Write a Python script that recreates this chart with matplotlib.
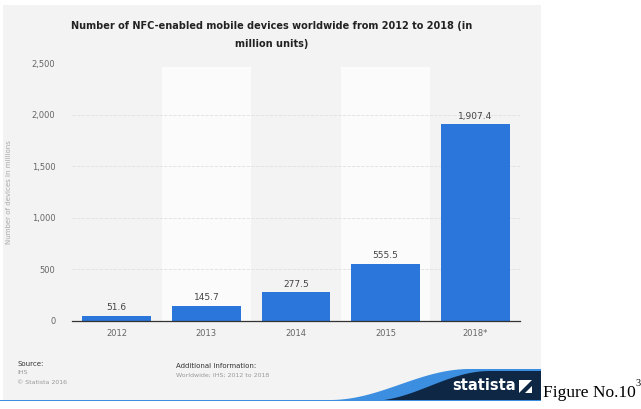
import matplotlib.pyplot as plt
import numpy as np
from matplotlib.patches import Rectangle, Polygon

years = ["2012", "2013", "2014", "2015", "2018*"]
devices = [51.6, 145.7, 277.5, 555.5, 1907.4]
value_labels = ["51.6", "145.7", "277.5", "555.5", "1,907.4"]
y_ticks = [0, 500, 1000, 1500, 2000, 2500]
y_tick_labels = ["0", "500", "1,000", "1,500", "2,000", "2,500"]

W, H = 641, 409


def px(x, y):
    # pixel coords (from top-left) -> figure fraction
    return x / W, 1 - y / H


fig = plt.figure(figsize=(6.41, 4.09), dpi=100)
fig.patch.set_facecolor("white")

# grey statista panel
fig.patches.append(Rectangle(px(3, 400), 538 / W, 395 / H, transform=fig.transFigure,
                             facecolor="#f3f3f3", edgecolor="none", zorder=-5))

ax = fig.add_axes([72 / W, 88 / H, 448 / W, 258 / H])
ax.set_facecolor("none")
x = np.arange(len(years))

# alternating lighter column bands
for i in x[1::2]:
    ax.add_patch(Rectangle((i - 0.5, 0), 1, 2465, facecolor="#fbfbfb", edgecolor="none",
                           zorder=0))

for v in y_ticks[1:-1]:
    ax.axhline(v, color="#e0e0e0", lw=0.6, ls=(0, (4, 1.5)), zorder=1)

bars = ax.bar(x, devices, width=0.77, color="#2a76da", zorder=2)
for b, lab in zip(bars, value_labels):
    ax.text(b.get_x() + b.get_width() / 2, b.get_height() + 35, lab, ha="center", va="bottom",
            fontsize=6.5, color="#444444")

ax.set_xlim(-0.5, 4.5)
ax.set_ylim(0, 2500)
ax.set_xticks(x)
ax.set_xticklabels(years, fontsize=6, color="#666666")
ax.set_yticks(y_ticks)
ax.set_yticklabels(y_tick_labels, fontsize=6, color="#666666")
ax.tick_params(length=0, pad=12)
ax.tick_params(axis="x", pad=6)
for s in ["top", "right", "left"]:
    ax.spines[s].set_visible(False)
ax.spines["bottom"].set_color("#333333")
ax.spines["bottom"].set_linewidth(0.9)
ax.set_ylabel("Number of devices in millions", fontsize=5, color="#aaaaaa", labelpad=14)

fig.text(*px(272, 26), "Number of NFC-enabled mobile devices worldwide from 2012 to 2018 (in",
         ha="center", va="center", fontsize=7, fontweight="bold", color="#222222")
fig.text(*px(272, 44), "million units)", ha="center", va="center", fontsize=7,
         fontweight="bold", color="#222222")

# footer
fig.text(*px(17, 364), "Source:", fontsize=5, color="#333333", va="center")
fig.text(*px(17, 373), "IHS", fontsize=4.5, color="#999999", va="center")
fig.text(*px(17, 382), "© Statista 2016", fontsize=4.5, color="#999999", va="center")
fig.text(*px(176, 366), "Additional Information:", fontsize=5, color="#333333", va="center")
fig.text(*px(176, 375), "Worldwide; IHS; 2012 to 2018", fontsize=4.5, color="#999999", va="center")

# wave + logo block
t = np.linspace(0, 1, 60)
wx = 330 + t * 140
wy = 400 - 31 * (0.5 - 0.5 * np.cos(np.pi * t))
wave = [px(a, b) for a, b in zip(wx, wy)] + [px(541, 369), px(541, 400), px(330, 400)]
fig.patches.append(Polygon(wave, closed=True, transform=fig.transFigure,
                           facecolor="#3c8ee0", edgecolor="none", zorder=1))
wx2 = 370 + t * 120
wy2 = 401 - 30 * (0.5 - 0.5 * np.cos(np.pi * t))
navy = [px(a, b) for a, b in zip(wx2, wy2)] + [px(541, 371), px(541, 401), px(370, 401)]
fig.patches.append(Polygon(navy, closed=True, transform=fig.transFigure,
                           facecolor="#0e2744", edgecolor="none", zorder=2))
fig.patches.append(Rectangle(px(0, 401), 541 / W, 1.5 / H, transform=fig.transFigure,
                             facecolor="#3c8ee0", edgecolor="none", zorder=2))
fig.text(*px(484, 386), "statista", ha="center", va="center", fontsize=10.5,
         fontweight="bold", color="white", zorder=3)
fig.patches.append(Rectangle(px(519, 393), 13 / W, 13 / H, transform=fig.transFigure,
                             facecolor="white", edgecolor="none", zorder=3))
fig.patches.append(Polygon([px(519, 393), px(532, 380), px(532, 386), px(525, 393)], closed=True,
                           transform=fig.transFigure, facecolor="#0e2744", edgecolor="none",
                           zorder=4))

fig.text(*px(543, 393), "Figure No.10", fontsize=12.5, family="Liberation Serif",
         color="black", va="center")
fig.text(*px(636, 384), "3", fontsize=7.5, family="Liberation Serif", color="black", va="center")

fig.savefig("out.png", dpi=100)
